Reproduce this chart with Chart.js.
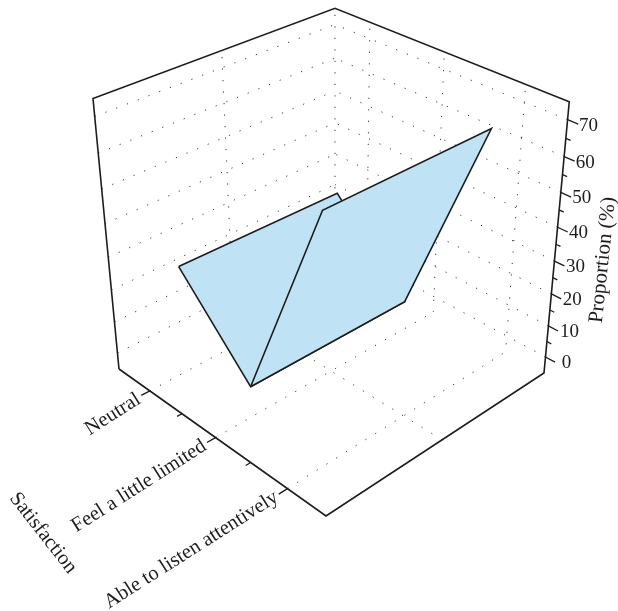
<!DOCTYPE html>
<html>
<head>
<meta charset="utf-8">
<title>Satisfaction</title>
<script src="https://cdn.jsdelivr.net/npm/chart.js@4/dist/chart.umd.min.js"></script>
<style>
  html, body { margin: 0; padding: 0; background: #fff; overflow: hidden; }
  canvas { display: block; }
</style>
</head>
<body>
<canvas id="chart3d" width="618" height="611"></canvas>
<script>
"use strict";

// Datos
var satisfaction    = ['Neutral', 'Feel a little limited', 'Able to listen attentively'];
var proportionFront = [28, 4.3, 67];
var proportionBack  = [27.3, 3.9, 67];
var zTicks          = [0, 10, 20, 30, 40, 50, 60, 70];
var zMinorTicks     = [5, 15, 25, 35, 45, 55, 65];
var xMinorTicks     = [1, 2];          // entre categorias (indice + 0.5)
var depthRows       = [0.15, 0.85];    // profundidad de la banda

// Rango del eje z dentro de la caja
var Z_MIN = -5.26, Z_MAX = 74.74;

// Camara: proyeccion perspectiva de la caja unidad a coordenadas de la pagina
function project(u, v, w) {
  var d = 1 - 0.12588 * u + 0.12173 * v - 0.1074 * w;
  return {
    x: (165.96 * u + 256.78 * v - 36 * w + 119) / d,
    y: (82.05 * u - 79.59 * v - 281 * w + 369) / d
  };
}
function uOf(i) { return (i + 0.5) / satisfaction.length; }
function wOf(z) { return (z - Z_MIN) / (Z_MAX - Z_MIN); }

var datasets = [];
function addLine(points, color, width, dash, dashOffset) {
  datasets.push({
    data: points,
    showLine: true,
    pointRadius: 0,
    borderColor: color,
    borderWidth: width,
    borderDash: dash || [],
    borderDashOffset: dashOffset || 0,
    borderCapStyle: 'butt',
    borderJoinStyle: 'miter',
    fill: false,
    tension: 0,
    order: -datasets.length
  });
}
function addFacet(points) {
  datasets.push({
    data: points.concat([points[0]]),
    showLine: true,
    pointRadius: 0,
    borderColor: '#1c1c1c',
    borderWidth: 1.6,
    backgroundColor: '#bfe2f5',
    fill: 'shape',
    tension: 0,
    order: -datasets.length
  });
}

// Rejilla punteada
var DOT = '#333333', DOTS = [1.2, 10.3];
zTicks.forEach(function (z) {
  addLine([project(0, 0, wOf(z)), project(0, 1, wOf(z))], DOT, 1, DOTS, 0);
  addLine([project(1, 1, wOf(z)), project(0, 1, wOf(z))], DOT, 1, DOTS, 0);
});
satisfaction.forEach(function (name, i) {
  addLine([project(uOf(i), 1, 1), project(uOf(i), 1, 0)], DOT, 1, DOTS, 5);
  addLine([project(uOf(i), 0, 0), project(uOf(i), 1, 0)], DOT, 1, DOTS, 0);
});
addLine([project(0, 0.5, 1), project(0, 0.5, 0)], DOT, 1, DOTS, 5);
addLine([project(0, 1, 1), project(0, 1, 0)], DOT, 1, DOTS, 5);
addLine([project(1, 0.5, 0), project(0, 0.5, 0)], DOT, 1, DOTS, 0);

// Caja
addLine([
  project(0, 0, 0), project(0, 0, 1), project(0, 1, 1), project(1, 1, 1),
  project(1, 1, 0), project(1, 0, 0), project(0, 0, 0)
], '#1c1c1c', 1.6);

// Marcas de los ejes
satisfaction.forEach(function (name, i) {
  addLine([project(uOf(i), 0, 0), project(uOf(i), -0.035, 0)], '#1c1c1c', 1.3);
});
xMinorTicks.forEach(function (m) {
  addLine([project(m / 3, 0, 0), project(m / 3, -0.02, 0)], '#1c1c1c', 1.3);
});
zTicks.forEach(function (z) {
  addLine([project(1, 1, wOf(z)), project(1.04, 1, wOf(z))], '#1c1c1c', 1.3);
});
zMinorTicks.forEach(function (z) {
  addLine([project(1, 1, wOf(z)), project(1.018, 1, wOf(z))], '#1c1c1c', 1.3);
});

// Superficie: cada tramo une dos categorias consecutivas
for (var i = 0; i < satisfaction.length - 1; i++) {
  addFacet([
    project(uOf(i), depthRows[0], wOf(proportionFront[i])),
    project(uOf(i), depthRows[1], wOf(proportionBack[i])),
    project(uOf(i + 1), depthRows[1], wOf(proportionBack[i + 1])),
    project(uOf(i + 1), depthRows[0], wOf(proportionFront[i + 1]))
  ]);
}

// Textos rotados de los ejes
function drawText(ctx, text, x, y, deg, align, size) {
  ctx.save();
  ctx.translate(x, y);
  ctx.rotate(deg * Math.PI / 180);
  ctx.textAlign = align;
  ctx.textBaseline = 'middle';
  ctx.font = size + "px 'Liberation Serif'";
  ctx.fillStyle = '#1c1c1c';
  ctx.fillText(text, 0, 0);
  ctx.restore();
}

var axisText = {
  id: 'axisText',
  afterDatasetsDraw: function (chart) {
    var ctx = chart.ctx, sx = chart.scales.x, sy = chart.scales.y;
    zTicks.forEach(function (z) {
      var p = project(1, 1, wOf(z));
      drawText(ctx, String(z), sx.getPixelForValue(p.x) + 21, sy.getPixelForValue(p.y) + 6, 0, 'center', 19);
    });
    satisfaction.forEach(function (name, i) {
      var p = project(uOf(i), 0, 0);
      drawText(ctx, name, sx.getPixelForValue(p.x) - 11, sy.getPixelForValue(p.y) + 7, -32.5, 'right', 20.5);
    });
    drawText(ctx, 'Proportion (%)', sx.getPixelForValue(603), sy.getPixelForValue(260), -84, 'center', 21);
    drawText(ctx, 'Satisfaction', sx.getPixelForValue(43), sy.getPixelForValue(533), 52, 'center', 20.5);
  }
};

new Chart(document.getElementById('chart3d'), {
  type: 'scatter',
  data: { datasets: datasets },
  options: {
    responsive: false,
    animation: false,
    events: [],
    layout: { padding: 0 },
    plugins: { legend: { display: false }, tooltip: { enabled: false } },
    scales: {
      x: { type: 'linear', min: 0, max: 618, display: false },
      y: { type: 'linear', min: 0, max: 611, reverse: true, display: false }
    }
  },
  plugins: [axisText]
});
</script>
</body>
</html>
